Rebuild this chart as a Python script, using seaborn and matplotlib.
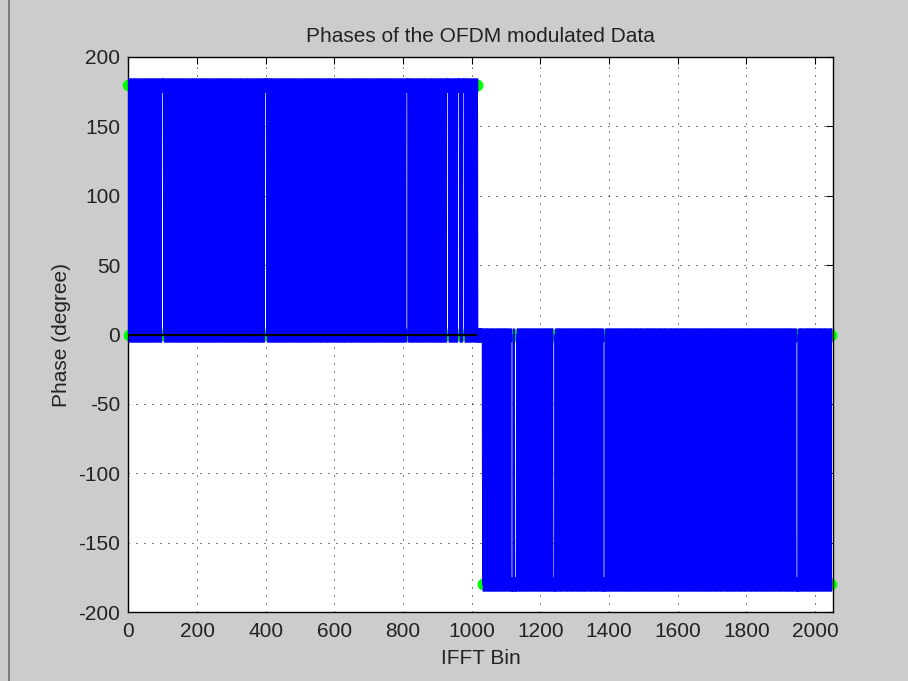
import numpy as np
import pandas as pd
import matplotlib
matplotlib.use("Agg")
import matplotlib.pyplot as plt
import seaborn as sns
from matplotlib.lines import Line2D

# ---- data -------------------------------------------------------------
n_fft = 2048
# occupied IFFT bins of the two halves (bins in between are nulled, phase 0)
lower_half_bins = (0, 1016)
upper_half_bins = (1032, 2047)
# the two phase states (degrees) taken by the symbols in each half
lower_half_phases = [180, 0]
upper_half_phases = [-180, 0]
# first bins of the short stretches where the phase stays on its first state
lower_half_holds = [96, 396, 809, 926, 958, 973]
upper_half_holds = [1114, 1124, 1237, 1383, 1945]
hold_length = 6

xticks = list(range(0, 2001, 200))
yticks = list(range(-200, 201, 50))

# ---- build the phase sequence ------------------------------------------
bins = np.arange(n_fft)
phase = np.zeros(n_fft)
for (b0, b1), states, holds in [
    (lower_half_bins, lower_half_phases, lower_half_holds),
    (upper_half_bins, upper_half_phases, upper_half_holds),
]:
    idx = np.arange(b0, b1 + 1)
    phase[idx] = np.where((idx - b0) % 2 == 0, states[0], states[1])
    for h in holds:
        phase[h:h + hold_length] = states[0]

df = pd.DataFrame({"IFFT Bin": bins, "Phase": phase})

# ---- figure -----------------------------------------------------------
sns.set_style("white")
plt.rcParams["font.family"] = ["Liberation Sans", "DejaVu Sans"]
plt.rcParams["axes.unicode_minus"] = False

fig = plt.figure(figsize=(9.08, 6.81), dpi=100, facecolor="#cccccc")
ax = fig.add_axes([0.1415, 0.1013, 0.7759, 0.815], facecolor="white")

# green point markers underneath
ax.plot(df["IFFT Bin"], df["Phase"], linestyle="none", marker="o",
        markerfacecolor="none", markeredgecolor="#00ff00",
        markersize=7, markeredgewidth=1.3, zorder=2, clip_on=False)

# blue phase trace
sns.lineplot(data=df, x="IFFT Bin", y="Phase", estimator=None, sort=False,
             color="#0000ff", linewidth=1.0, marker="|", markersize=10,
             markeredgewidth=1.0, markeredgecolor="#0000ff", ax=ax, zorder=3)

# zero line across the lower half
ax.hlines(0, lower_half_bins[0], lower_half_bins[1], color="black",
          linewidth=1.6, zorder=4)

ax.set_xlim(0, 2052)
ax.set_ylim(-200, 200)
ax.set_xticks(xticks)
ax.set_yticks(yticks)
ax.set_axisbelow(True)
ax.grid(True, color="black", linestyle=(0, (1, 7)), linewidth=0.72)

for s in ax.spines.values():
    s.set_color("black")
    s.set_linewidth(1.0)
ax.tick_params(direction="in", length=5, width=0.8, top=True, right=True,
               labelsize=15, colors="black", labelcolor="#222222")
ax.tick_params(axis="x", pad=7)
ax.tick_params(axis="y", pad=6)

ax.set_title("Phases of the OFDM modulated Data", fontsize=15,
             color="#222222", pad=10.5)
ax.set_xlabel("IFFT Bin", fontsize=15, color="#222222", labelpad=6)
ax.set_ylabel("Phase (degree)", fontsize=15, color="#222222", labelpad=5)

# window frame edge on the left
fig.add_artist(Line2D([8.5 / 908, 8.5 / 908], [0, 1], transform=fig.transFigure,
                      color="#6e6e6e", linewidth=1.2))

fig.savefig("out.png", dpi=100, facecolor=fig.get_facecolor())
